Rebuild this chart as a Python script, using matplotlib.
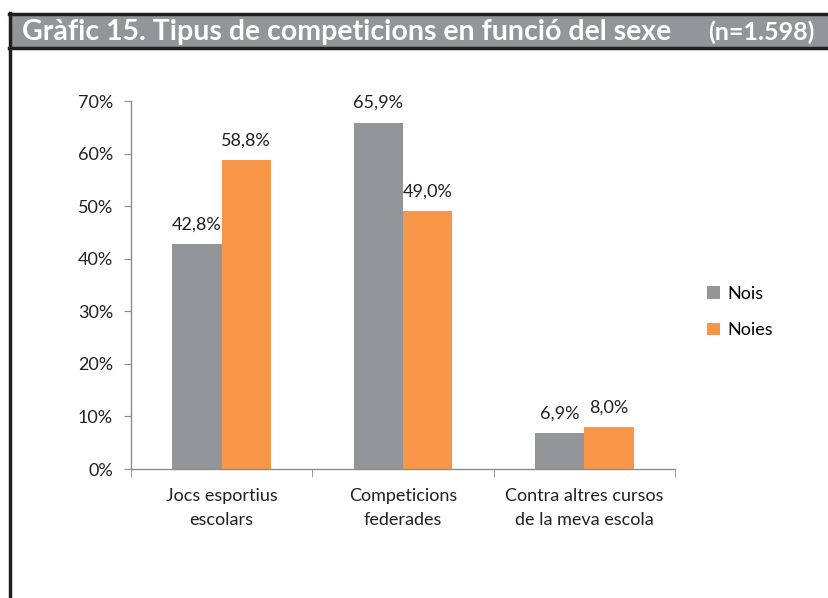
import numpy as np
import matplotlib.pyplot as plt
from matplotlib.patches import Rectangle
from matplotlib.lines import Line2D

categories = ['Jocs esportius\nescolars', 'Competicions\nfederades', 'Contra altres cursos\nde la meva escola']
nois = [42.8, 65.9, 6.9]
noies = [58.8, 49.0, 8.0]
yticks = [0, 10, 20, 30, 40, 50, 60, 70]

plt.rcParams['font.family'] = ['Lato', 'DejaVu Sans']
gris = '#939598'
taronja = '#F79646'
eix = '#8c8c8c'
fs = 13

fig = plt.figure(figsize=(8.29, 5.98), dpi=100)

# marc i banda del titol
fig.add_artist(Rectangle((9/829, 1-48/598), 820/829, 34/598, transform=fig.transFigure,
                         facecolor='#939598', edgecolor='none'))
fig.add_artist(Line2D([9/829, 1], [1-14/598, 1-14/598], transform=fig.transFigure, color='#231f20', lw=2.5))
fig.add_artist(Line2D([9/829, 1], [1-48/598, 1-48/598], transform=fig.transFigure, color='#231f20', lw=2.5))
fig.add_artist(Line2D([10/829, 10/829], [0, 1-13/598], transform=fig.transFigure, color='#231f20', lw=2.5))
fig.text(22/829, 1-32/598, 'Gràfic 15. Tipus de competicions en funció del sexe', color='white',
         fontsize=20.5, fontweight='bold', va='center', ha='left')
fig.text(815/829, 1-32/598, '(n=1.598)', color='white', fontsize=18, fontweight='bold',
         va='center', ha='right')

ax = fig.add_axes([131/829, 1-469/598, (675-131)/829, (469-101)/598])
x = np.arange(len(categories))
w = 0.272
b1 = ax.bar(x - w/2, nois, w, color=gris, label='Nois')
b2 = ax.bar(x + w/2, noies, w, color=taronja, label='Noies')
for bars, vals in ((b1, nois), (b2, noies)):
    for r, v in zip(bars, vals):
        ax.text(r.get_x() + r.get_width()/2, v + 2.2, f'{v:.1f}%'.replace('.', ','),
                ha='center', va='bottom', fontsize=fs, color='#231f20')

ax.set_xlim(-0.5, 2.5)
ax.set_ylim(0, 70)
ax.set_yticks(yticks)
ax.set_yticklabels([f'{t}%' for t in yticks], fontsize=fs, color='#231f20')
ax.set_xticks(x)
ax.set_xticklabels(categories, fontsize=fs, color='#231f20', linespacing=1.55)
ax.tick_params(axis='x', length=0, pad=14)
ax.set_xticks([-0.5, 0.5, 1.5, 2.5], minor=True)
ax.tick_params(axis='x', which='minor', length=6, color=eix, direction='out')
ax.tick_params(axis='y', length=5, color=eix, direction='out', pad=8)
for s in ['top', 'right']:
    ax.spines[s].set_visible(False)
for s in ['left', 'bottom']:
    ax.spines[s].set_color(eix)
    ax.spines[s].set_linewidth(1)

leg = fig.legend(handles=[b1, b2], labels=['Nois', 'Noies'], loc='center left',
                 bbox_to_anchor=(691/829, 1-312/598), frameon=False, fontsize=fs,
                 handlelength=0.7, handleheight=0.7, handletextpad=0.4, labelspacing=1.15)

fig.savefig('out.png', dpi=100)
